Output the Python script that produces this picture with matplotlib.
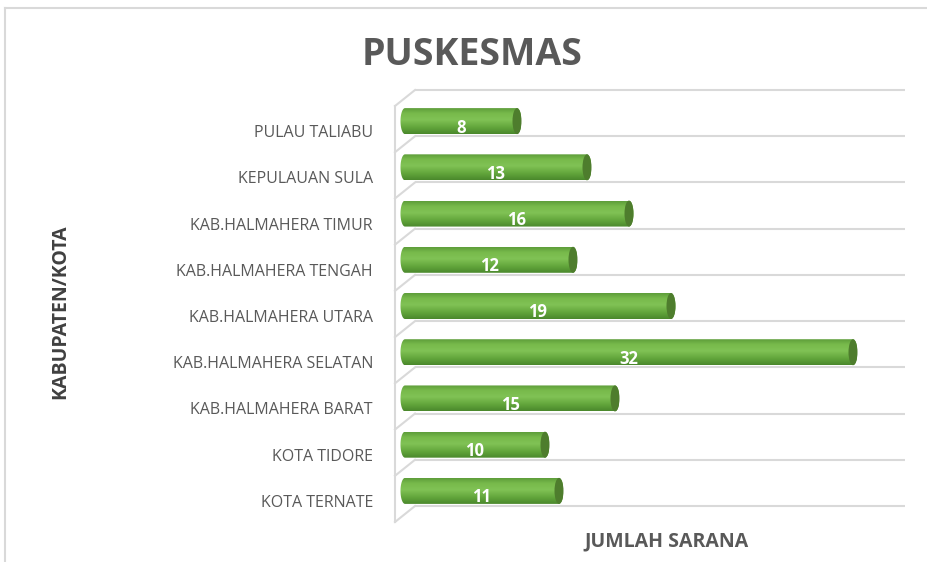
"""Puskesmas per kabupaten/kota - horizontal cylinder bars, Excel 3D look."""

import numpy as np
import matplotlib
matplotlib.use("Agg")
import matplotlib.pyplot as plt
from matplotlib.colors import LinearSegmentedColormap
from matplotlib.patches import Ellipse, PathPatch
from matplotlib.path import Path
from matplotlib.lines import Line2D
from matplotlib.transforms import ScaledTranslation, blended_transform_factory

categories = [
    "KOTA TERNATE",
    "KOTA TIDORE",
    "KAB.HALMAHERA BARAT",
    "KAB.HALMAHERA SELATAN",
    "KAB.HALMAHERA UTARA",
    "KAB.HALMAHERA TENGAH",
    "KAB.HALMAHERA TIMUR",
    "KEPULAUAN SULA",
    "PULAU TALIABU",
]
values = [11, 10, 15, 32, 19, 12, 16, 13, 8]
x_max = 35

title = "PUSKESMAS"
x_label = "JUMLAH SARANA"
y_label = "KABUPATEN/KOTA"

plt.rcParams["font.family"] = ["Open Sans", "DejaVu Sans"]

W, H = 928, 562
fig = plt.figure(figsize=(W / 100, H / 100), dpi=100)
ax_w, ax_h = 490, 416
ax = fig.add_axes([405 / W, (H - 514) / H, ax_w / W, ax_h / H])
n = len(categories)
ax.set_xlim(0, x_max)
ax.set_ylim(-0.5, n - 0.5)
ax.axis("off")

# depth of the fake 3D walls, in data units
px_x = ax_w / x_max
px_y = ax_h / n
dx, dy = 10 / px_x, 8 / px_y

# ── walls / gridlines ────────────────────────────────────────────────
grid_c = "#d9d9d9"
bounds = np.arange(n + 1) - 0.5
for b in bounds:
    ax.plot([dx, x_max + dx], [b + dy, b + dy], color=grid_c, lw=1.5,
            clip_on=False, zorder=1, solid_capstyle="butt")
    ax.plot([-dx, dx], [b - dy, b + dy], color=grid_c, lw=1.5,
            clip_on=False, zorder=1)
ax.plot([-dx, -dx], [bounds[0] - dy, bounds[-1] - dy], color=grid_c, lw=1.5,
        clip_on=False, zorder=1)

# ── cylinders ────────────────────────────────────────────────────────
cmap = LinearSegmentedColormap.from_list("cyl", [
    (0.0, "#4a882c"), (0.25, "#62a53b"), (0.55, "#80c255"),
    (0.8, "#78ba4b"), (1.0, "#5e9d3a"),
])
grad = np.linspace(0, 1, 120).reshape(-1, 1)
bar_h = 26 / px_y
cap_a = 4.5 / px_x


def body_path(v, y, h, a):
    t = np.linspace(np.pi / 2, 3 * np.pi / 2, 30)
    left = np.column_stack([a * np.cos(t), y + h / 2 * np.sin(t)])
    t2 = np.linspace(-np.pi / 2, np.pi / 2, 30)
    right = np.column_stack([v + a * np.cos(t2), y + h / 2 * np.sin(t2)])
    verts = np.vstack([left, right, left[:1]])
    codes = [Path.MOVETO] + [Path.LINETO] * (len(verts) - 2) + [Path.CLOSEPOLY]
    return Path(verts, codes)


for i, v in enumerate(values):
    patch = PathPatch(body_path(v, i, bar_h, cap_a), fc="none", ec="none",
                      clip_on=False)
    ax.add_patch(patch)
    im = ax.imshow(grad, extent=[-cap_a, v + cap_a, i - bar_h / 2, i + bar_h / 2],
                   cmap=cmap, aspect="auto", origin="lower", zorder=2)
    im.set_clip_path(patch)
    im.set_clip_box(fig.bbox)
    ax.add_patch(Ellipse((v, i), 2 * cap_a, bar_h, fc="#4e7d2d", ec="none", zorder=3))
    ax.text(v / 2, i - 0.14, str(v), color="white", fontsize=12,
            fontweight="bold", ha="center", va="center", zorder=4)

ax.set_xlim(0, x_max)
ax.set_ylim(-0.5, n - 0.5)

# ── category labels (on the front plane) ─────────────────────────────
lab_tr = blended_transform_factory(ax.transAxes, ax.transData) + \
    ScaledTranslation(0, -0.12, fig.dpi_scale_trans)
for i, cat in enumerate(categories):
    ax.text(-32 / ax_w, i, cat, transform=lab_tr, ha="right", va="center",
            fontsize=11.5, color="#595959")

# ── titles ───────────────────────────────────────────────────────────
fig.text(472 / W, 1 - 55 / H, title, ha="center", va="center",
         fontsize=27, fontweight="bold", color="#595959")
fig.text(667 / W, 1 - 541 / H, x_label, ha="center", va="center",
         fontsize=14, fontweight="bold", color="#595959")
fig.text(60 / W, 1 - 312 / H, y_label, ha="center", va="center", rotation=90,
         fontsize=14, fontweight="bold", color="#404040")

# chart area border (only top/left visible in the crop)
fig.add_artist(Line2D([5 / W, 1], [1 - 8 / H, 1 - 8 / H], color=grid_c, lw=1.5))
fig.add_artist(Line2D([5 / W, 5 / W], [0, 1 - 8 / H], color=grid_c, lw=1.5))

fig.savefig("out.png", dpi=100)
plt.close()
